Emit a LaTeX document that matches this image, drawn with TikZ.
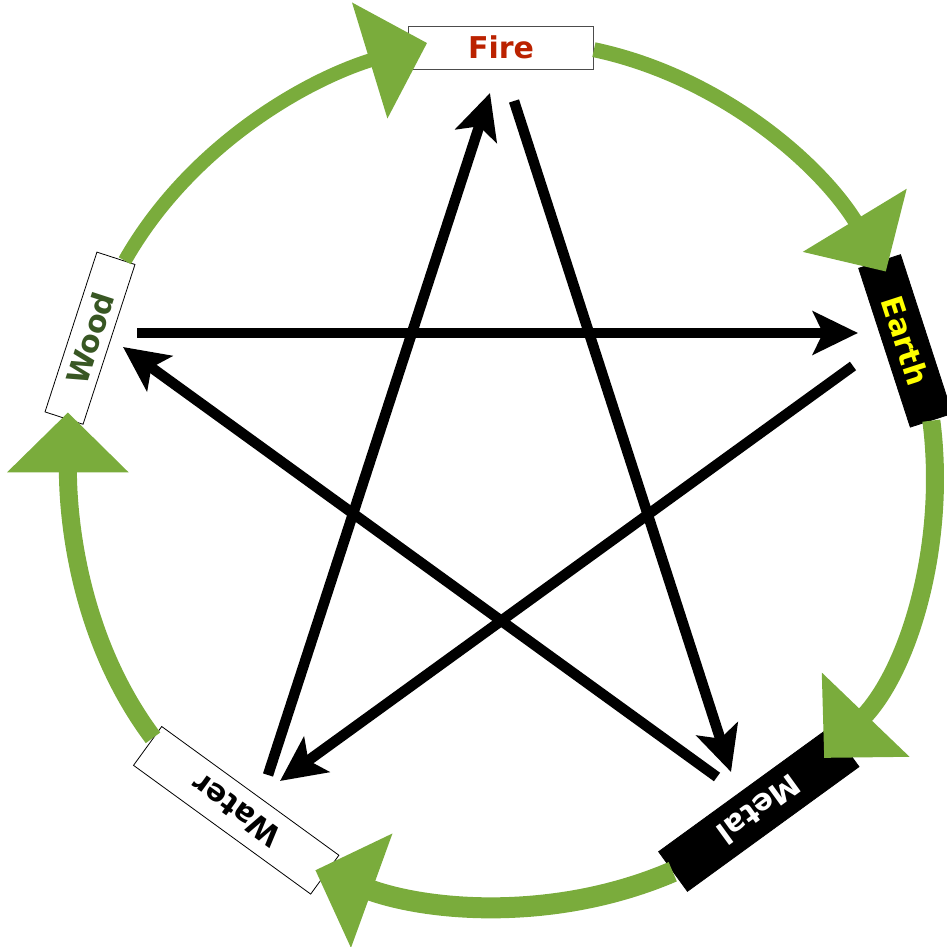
\documentclass[tikz,border=0pt]{standalone}
\usepackage{fontspec}
\setmainfont{DejaVu Sans}
\usetikzlibrary{arrows.meta,calc}
\definecolor{arcgreen}{RGB}{122,172,60}
\definecolor{firered}{RGB}{187,34,0}
\definecolor{woodgreen}{RGB}{56,87,35}
\definecolor{earthyellow}{RGB}{255,255,0}
\begin{document}
\begin{tikzpicture}[x=1pt,y=1pt,
  elem/.style={font=\fontsize{30}{36}\selectfont\bfseries, inner sep=0pt, line width=0.8pt},
  lightbox/.style={elem, draw=black, fill=white},
  darkbox/.style={elem, draw=black, fill=black},
  cyclearrow/.style={draw=arcgreen, looseness=0.89, -{Triangle[length=60pt,width=118pt]}},
  ctrlarrow/.style={draw=black, line width=10.5pt, -{Stealth[length=45pt,width=43pt,inset=10pt]}}]
\useasboundingbox (0,0) rectangle (946,947);

% elements
\node[lightbox, draw=black!70, minimum width=185pt, minimum height=43pt, text=firered] (fire) at (501,899.5) {Fire};
\node[darkbox, minimum width=167pt, minimum height=44pt, text=earthyellow, rotate=-72] (earth) at (905.4,606.1) {Earth};
\node[darkbox, minimum width=212pt, minimum height=49pt, text=white, rotate=-144] (metal) at (758.8,137.8) {Metal};
\node[lightbox, minimum width=219pt, minimum height=48pt, text=black, rotate=144] (water) at (236.2,136.7) {Water};
\node[lightbox, minimum width=168pt, minimum height=40pt, text=woodgreen, rotate=72] (wood) at (90,608.8) {Wood};

% generating cycle
\draw[cyclearrow, line width=14pt] ($(wood.east)!0.45!(wood.south east)$)
  to[out=24.7, in=161.2, relative] ([shift={(19,4.5)}]fire.west);
\draw[cyclearrow, line width=15pt] ($(fire.east)!0.1!(fire.south east)$)
  to[out=25.3, in=158.5, relative] ([shift={(6.4,-10.5)}]earth.west);
\draw[cyclearrow, line width=18pt] (earth.east)
  to[out=25, in=153.8, relative] ([shift={(-20.8,-11.3)}]metal.west);
\draw[cyclearrow, line width=21pt] (metal.east)
  to[out=23.5, in=160.3, relative] ([shift={(-9.8,4.7)}]water.west);
\draw[cyclearrow, line width=18pt] ($(water.east)!0.4!(water.south east)$)
  to[out=22.2, in=165.3, relative] ([shift={(4,6.1)}]wood.west);

% controlling star
\coordinate (wa1) at (268,172);  \coordinate (fi1) at (490,854);
\coordinate (fi2) at (514,846);  \coordinate (me1) at (731,175);
\coordinate (wo1) at (137,614);  \coordinate (ea1) at (858,614);
\coordinate (ea2) at (853,581);  \coordinate (wa2) at (280,166);
\coordinate (me2) at (717,170);  \coordinate (wo2) at (123,600);
\draw[ctrlarrow] (wa1) -- (fi1);
\draw[ctrlarrow] (fi2) -- (me1);
\draw[ctrlarrow] (wo1) -- (ea1);
\draw[ctrlarrow] (ea2) -- (wa2);
\draw[ctrlarrow] (me2) -- (wo2);
\end{tikzpicture}
\end{document}
